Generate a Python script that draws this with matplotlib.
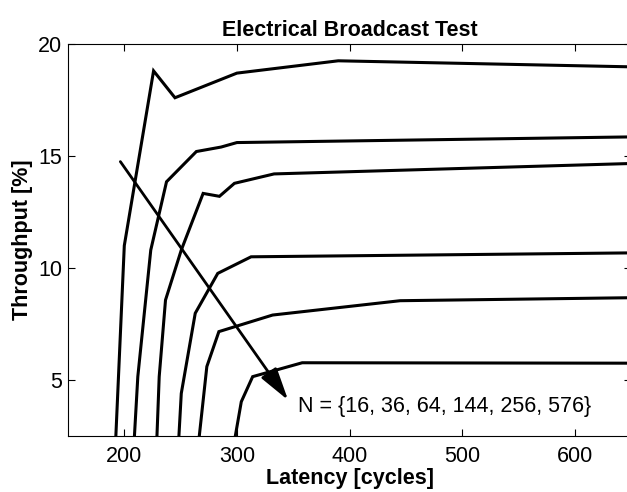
import matplotlib
matplotlib.use("Agg")
import matplotlib.pyplot as plt

plt.rcParams['font.family'] = ['Liberation Sans', 'DejaVu Sans']

# latency [cycles] / throughput [%] per network size N
n_sizes = [16, 36, 64, 144, 256, 576]

lat_16 = [192.5, 200, 226, 245, 300, 390, 660]
thr_16 = [2.5, 11.0, 18.8, 17.6, 18.7, 19.25, 18.97]

lat_36 = [209, 212, 223.5, 237.5, 264, 286, 300, 660]
thr_36 = [2.5, 5.15, 10.8, 13.85, 15.2, 15.4, 15.6, 15.86]

lat_64 = [229, 231, 236.6, 250.6, 270, 284.5, 297.8, 333, 660]
thr_64 = [2.5, 5.15, 8.57, 10.8, 13.33, 13.2, 13.78, 14.2, 14.68]

lat_144 = [248.5, 250.6, 263, 283, 312.6, 660]
thr_144 = [2.5, 4.4, 7.98, 9.76, 10.5, 10.68]

lat_256 = [266.6, 273.3, 284, 331.7, 445, 660]
thr_256 = [2.5, 5.6, 7.16, 7.9, 8.54, 8.68]

lat_576 = [298.6, 303.9, 314, 358, 660]
thr_576 = [2.5, 4.03, 5.15, 5.77, 5.75]

series = [(lat_16, thr_16), (lat_36, thr_36), (lat_64, thr_64),
          (lat_144, thr_144), (lat_256, thr_256), (lat_576, thr_576)]

arrow_start = (196.5, 14.75)
arrow_end = (345.5, 4.1)
label_pos = (354, 3.8)

fs = 15.5

fig = plt.figure(figsize=(6.27, 4.92), dpi=100)
ax = fig.add_axes([68 / 627, 56 / 492, 563 / 627, 392 / 492])

for lat, thr in series:
    ax.plot(lat, thr, color='black', lw=2.2, solid_joinstyle='miter')

ax.annotate('', xy=arrow_end, xytext=arrow_start,
            arrowprops=dict(arrowstyle='-|>,head_length=1.0,head_width=0.28',
                            color='black', lw=2.0, shrinkA=0, shrinkB=0,
                            mutation_scale=20))
ax.text(label_pos[0], label_pos[1],
        'N = {' + ', '.join(str(n) for n in n_sizes) + '}',
        fontsize=fs, va='center', ha='left')

ax.set_xlim(150, 650)
ax.set_ylim(2.5, 20)
ax.set_xticks([200, 300, 400, 500, 600])
ax.set_yticks([5, 10, 15, 20])
ax.tick_params(direction='in', length=5, width=0.8, top=True, right=True,
               labelsize=fs)
ax.tick_params(axis='x', pad=7)
ax.tick_params(axis='y', pad=4)
for sp in ax.spines.values():
    sp.set_linewidth(0.8)

ax.set_title('Electrical Broadcast Test', fontsize=fs, fontweight='bold', pad=6)
ax.set_xlabel('Latency [cycles]', fontsize=fs, fontweight='bold', labelpad=1)
ax.set_ylabel('Throughput [%]', fontsize=fs, fontweight='bold', labelpad=4)

fig.savefig('out.png', dpi=100)
